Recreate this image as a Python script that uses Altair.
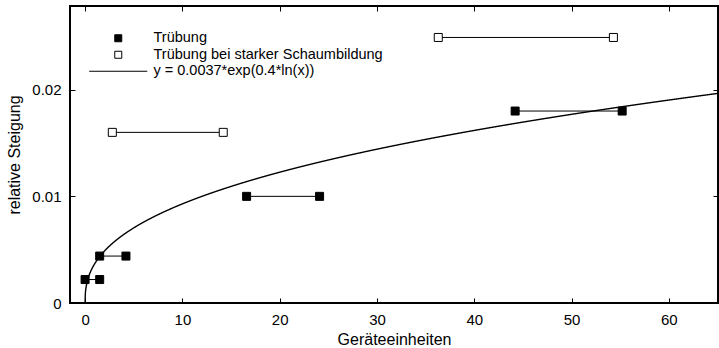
import altair as alt
import pandas as pd

# ---- data ----
# "Trübung" (filled squares), each a horizontal pair joined by a line
tr_x_left = [0.0, 1.5, 16.6, 44.2]
tr_x_right = [1.5, 4.2, 24.1, 55.2]
tr_y = [0.0022, 0.0044, 0.0100, 0.0180]

# "Trübung bei starker Schaumbildung" (open squares)
sch_x_left = [2.8, 36.3]
sch_x_right = [14.2, 54.3]
sch_y = [0.0160, 0.0249]

# fitted curve  y = a * exp(b * ln(x))
fit_a = 0.0037
fit_b = 0.4

series_names = ["Trübung", "Trübung bei starker Schaumbildung",
                "y = 0.0037*exp(0.4*ln(x))"]

x_ticks = [0, 10, 20, 30, 40, 50, 60]
y_ticks = [0, 0.01, 0.02]

# ---- tables ----
seg_rows = []
pt_rows = []
for xl, xr, y in zip(tr_x_left, tr_x_right, tr_y):
    seg_rows.append({"x1": xl, "x2": xr, "y": y, "series": series_names[0]})
    pt_rows += [{"x": xl, "y": y, "series": series_names[0]},
                {"x": xr, "y": y, "series": series_names[0]}]
for xl, xr, y in zip(sch_x_left, sch_x_right, sch_y):
    seg_rows.append({"x1": xl, "x2": xr, "y": y, "series": series_names[1]})
    pt_rows += [{"x": xl, "y": y, "series": series_names[1]},
                {"x": xr, "y": y, "series": series_names[1]}]
seg_df = pd.DataFrame(seg_rows)
pt_df = pd.DataFrame(pt_rows)

W, H = 648, 297
FONT = "Liberation Sans"

xs = alt.Scale(domain=[-1.55, 65.05], nice=False, zero=False)
ys = alt.Scale(domain=[0, 0.02785], nice=False, zero=False)

lbl_x_axis = alt.Axis(values=x_ticks, ticks=False, domain=False, grid=False,
                      labelPadding=9, title="Geräteeinheiten", titlePadding=4)
lbl_y_axis = alt.Axis(values=y_ticks, ticks=False, domain=False, grid=False,
                      labelPadding=9, title="relative Steigung", titlePadding=9,
                      labelExpr="datum.value == 0 ? '0' : format(datum.value, '.2f')")

segs = alt.Chart(seg_df).mark_rule(color="black", strokeWidth=1).encode(
    x=alt.X("x1:Q", scale=xs, axis=lbl_x_axis),
    x2="x2:Q",
    y=alt.Y("y:Q", scale=ys, axis=lbl_y_axis),
)

legend = alt.Legend(title=None, orient="none", legendX=41, legendY=25,
                    labelFont=FONT, labelFontSize=14.5, labelColor="black",
                    labelLimit=400,
                    symbolSize=49, symbolStrokeWidth=1, symbolOpacity=1,
                    labelOffset=28, rowPadding=1.5, padding=0)

pts = alt.Chart(pt_df).mark_point(filled=True, strokeWidth=1,
                                  size=64, opacity=1).encode(
    x=alt.X("x:Q", scale=xs,
            axis=alt.Axis(orient="top", offset=-H, values=x_ticks, labels=False,
                          domain=False, grid=False, tickSize=5, tickColor="black",
                          title=None)),
    y=alt.Y("y:Q", scale=ys,
            axis=alt.Axis(orient="right", offset=-W, values=y_ticks, labels=False,
                          domain=False, grid=False, tickSize=5, tickColor="black",
                          title=None)),
    shape=alt.Shape("series:N", scale=alt.Scale(domain=series_names,
                    range=["square", "square", "M-8.3,0H8.3"]), legend=legend),
    fill=alt.Fill("series:N", scale=alt.Scale(domain=series_names,
                  range=["black", "white", "transparent"]), legend=legend),
    stroke=alt.Stroke("series:N", scale=alt.Scale(domain=series_names,
                      range=["black", "black", "black"]), legend=legend),
)

curve = alt.Chart(alt.sequence(0, 65.06, 0.02, as_="gx")).transform_calculate(
    gy=f"{fit_a} * pow(datum.gx, {fit_b})"
).mark_line(color="black", strokeWidth=1.4, clip=True).encode(
    x=alt.X("gx:Q", scale=xs,
            axis=alt.Axis(orient="bottom", offset=-H, values=x_ticks, labels=False,
                          domain=False, grid=False, tickSize=5, tickColor="black",
                          title=None)),
    y=alt.Y("gy:Q", scale=ys,
            axis=alt.Axis(orient="left", offset=-W, values=y_ticks, labels=False,
                          domain=False, grid=False, tickSize=5, tickColor="black",
                          title=None)),
    order="gx:Q",
)

chart = alt.layer(segs, curve, pts).resolve_axis(
    x="independent", y="independent"
).properties(
    width=W, height=H,
    background="white",
    autosize=alt.AutoSizeParams(type="none"),
    padding={"left": 70, "top": 6, "right": 1, "bottom": 45},
).configure_view(
    stroke="black", strokeWidth=2
).configure_axis(
    labelFont=FONT, labelFontSize=15, labelColor="black",
    titleFont=FONT, titleFontSize=16, titleFontWeight="normal", titleColor="black",
)

chart.save("out.html", embed_options={"renderer": "svg", "actions": False})
